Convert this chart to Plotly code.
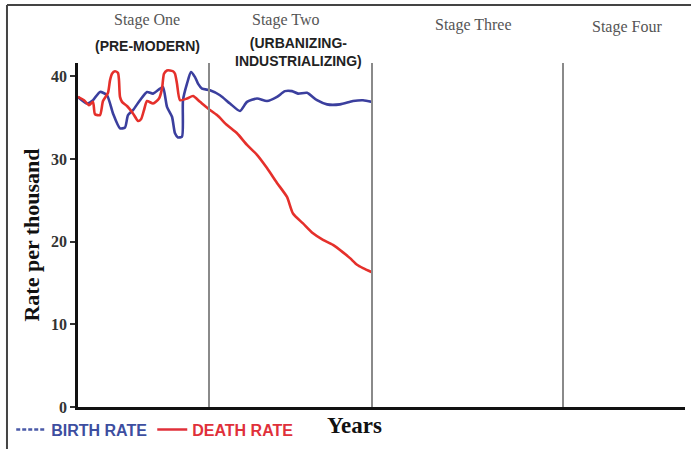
import plotly.graph_objects as go

# ---- data (x = time in arbitrary "years" units, y = rate per thousand) ----
birth_x = [0, 9, 15, 22, 29, 35, 42, 47, 50, 55, 62, 69, 75, 82, 85, 89, 94, 97, 100, 104,
           105, 109, 113, 117, 120, 124, 132, 142, 152, 162, 169, 179, 189, 199, 207, 214,
           220, 229, 239, 249, 262, 275, 285, 294]
birth_y = [37.5, 36.7, 37.1, 38.1, 37.7, 35.5, 33.7, 33.8, 35.3, 35.9, 37.1, 38.1, 37.9, 38.5,
           38.7, 36.3, 35.1, 33.1, 32.6, 32.7, 37.1, 39.1, 40.5, 39.9, 39.1, 38.5, 38.3, 37.7,
           36.7, 35.8, 36.9, 37.3, 37.0, 37.5, 38.2, 38.2, 37.9, 38.0, 37.1, 36.6, 36.6, 37.0,
           37.1, 36.9]

death_x = [0, 6, 11, 15, 17, 22, 25, 30, 32, 34, 37, 40, 41, 42, 44, 49, 55, 60, 63, 66, 69,
           75, 81, 84, 86, 89, 92, 95, 97, 99, 102, 109, 115, 122, 130, 139, 149, 159, 169,
           179, 189, 199, 209, 215, 225, 235, 245, 255, 265, 272, 279, 285, 294]
death_y = [37.5, 37.1, 36.5, 36.9, 35.4, 35.3, 37.0, 38.0, 39.5, 40.3, 40.6, 40.4, 39.5, 37.5,
           36.9, 36.4, 35.5, 34.6, 34.8, 35.9, 37.0, 36.7, 37.3, 38.5, 40.3, 40.7, 40.7, 40.6,
           40.3, 39.1, 37.1, 37.3, 37.6, 36.9, 36.1, 35.3, 34.1, 33.1, 31.7, 30.5, 28.9, 27.1,
           25.4, 23.4, 22.2, 21.0, 20.2, 19.6, 18.7, 18.0, 17.2, 16.8, 16.3]

stage_bounds = [131, 294, 485]
stage_names = ["Stage One", "Stage Two", "Stage Three", "Stage Four"]
stage_label_x = [69, 207, 395, 549]
stage_label_y = [1.125, 1.125, 1.110, 1.105]
stage_subtitles = ["(PRE-MODERN)", "(URBANIZING-<br>INDUSTRIALIZING)"]
stage_subtitle_x = [69, 220]
stage_subtitle_y = [1.049, 1.033]
y_ticks = [0, 10, 20, 30, 40]

BLUE = "#3b3f9e"
RED = "#e5302b"

fig = go.Figure()

fig.add_trace(go.Scatter(x=birth_x, y=birth_y, mode="lines", name="BIRTH RATE",
                         legendgroup="birth", showlegend=False,
                         line=dict(color=BLUE, width=2.6, shape="spline", smoothing=0.6)))
fig.add_trace(go.Scatter(x=death_x, y=death_y, mode="lines", name="DEATH RATE",
                         legendgroup="death", showlegend=False,
                         line=dict(color=RED, width=2.6, shape="spline", smoothing=0.6)))
# legend entries (dashed key for birth, solid key for death, as in the original)
fig.add_trace(go.Scatter(x=[None], y=[None], mode="lines", legendgroup="birth",
                         name="<b><span style='color:#3d4ea0'>BIRTH RATE</span></b>",
                         line=dict(color="#4a5aa8", width=2.5, dash="4px,2px")))
fig.add_trace(go.Scatter(x=[None], y=[None], mode="lines", legendgroup="death",
                         name="<b><span style='color:#e0303a'>DEATH RATE</span></b>",
                         line=dict(color="#e0303a", width=2.5)))

# stage divider lines
for b in stage_bounds:
    fig.add_shape(type="line", xref="x", yref="paper", x0=b, x1=b, y0=0, y1=1,
                  line=dict(color="#8a8a8a", width=2))

# stage titles
for name, sx, sy in zip(stage_names, stage_label_x, stage_label_y):
    fig.add_annotation(x=sx, xref="x", y=sy, yref="paper", text=name, showarrow=False,
                       xanchor="center", yanchor="middle",
                       font=dict(family="Liberation Serif", size=16, color="#555555"))
for sub, sx, sy in zip(stage_subtitles, stage_subtitle_x, stage_subtitle_y):
    fig.add_annotation(x=sx, xref="x", y=sy, yref="paper", text=f"<b>{sub}</b>",
                       showarrow=False, xanchor="center", yanchor="middle", align="center",
                       font=dict(family="Liberation Sans", size=14, color="#222222"))

# axis title "Years"
fig.add_annotation(x=276, xref="x", y=-0.012, yref="paper", text="<b>Years</b>",
                   showarrow=False, xanchor="center", yanchor="top",
                   font=dict(family="Liberation Serif", size=23, color="#111111"))

# outer frame (top and left edges)
fig.add_shape(type="line", xref="paper", yref="paper", x0=-0.117, x1=1.02, y0=1.1686, y1=1.1686,
              line=dict(color="#444444", width=2))
fig.add_shape(type="line", xref="paper", yref="paper", x0=-0.117, x1=-0.117, y0=-0.13, y1=1.1686,
              line=dict(color="#444444", width=2))

fig.update_layout(
    width=691, height=449,
    margin=dict(l=78, r=6, t=63, b=42, autoexpand=False),
    paper_bgcolor="white", plot_bgcolor="white",
    showlegend=True,
    legend=dict(orientation="h", x=-0.110, xanchor="left", y=-0.016, yanchor="top",
                font=dict(family="Liberation Sans", size=16, color="#3d4ea0"),
                itemwidth=30, tracegroupgap=0, bgcolor="rgba(0,0,0,0)"),
    xaxis=dict(range=[0, 607], showgrid=False, zeroline=False, showticklabels=False,
               ticks="", showline=True, linecolor="#111111", linewidth=2.5, fixedrange=True,
               automargin=False),
    yaxis=dict(range=[0, 41.6], showgrid=False, zeroline=False, tickvals=y_ticks,
               ticktext=[f"<b>{t}</b>" for t in y_ticks], ticks="outside", ticklen=5,
               tickcolor="#333333", tickwidth=1.5, automargin=False,
               tickfont=dict(family="Liberation Serif", size=16, color="#333333"),
               showline=True, linecolor="#111111", linewidth=2.5, fixedrange=True,
               title=dict(text="<b>Rate per thousand</b>", standoff=6,
                          font=dict(family="Liberation Serif", size=22, color="#111111"))),
)

# remove the browser's default 8px page margin so the figure sits at the window's corner
fig.write_html("out.html", config={"displayModeBar": False},
               post_script="document.body.style.margin='0';")
